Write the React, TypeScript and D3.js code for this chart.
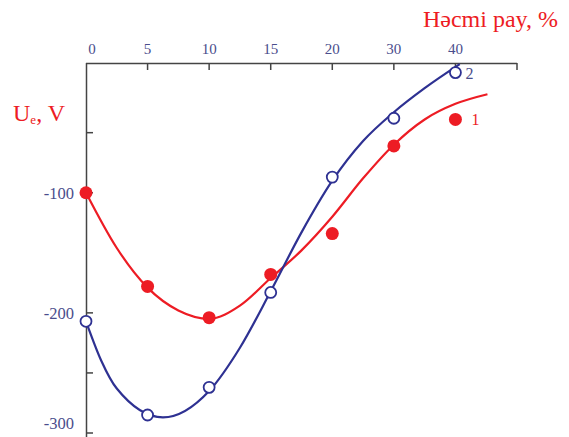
import * as d3 from "d3";
import { useEffect, useRef } from "react";

// x axis slots (equally spaced, last slot has no label)
const xLabels = ["0", "5", "10", "15", "20", "30", "40", ""];

// measured points, [slot, value]
const series1Points: [number, number][] = [
  [0, -100], [1, -178], [2, -204], [3, -168], [4, -134], [5, -61], [6, -39],
];
const series2Points: [number, number][] = [
  [0, -207], [1, -285], [2, -262], [3, -183], [4, -87], [5, -38], [6, 0],
];

// fitted curves
const series1Fit: [number, number][] = [
  [0, -100], [0.5, -146], [1, -179], [1.5, -198], [2, -205], [2.5, -194],
  [3, -171], [3.5, -148], [4, -120], [4.5, -88], [5, -60], [5.5, -39],
  [6, -26], [6.52, -18],
];
const series2Fit: [number, number][] = [
  [0, -207], [0.25, -240], [0.5, -263], [1.25, -287], [2, -265], [2.5, -229],
  [3, -182], [3.5, -133], [4, -90], [4.5, -57], [5, -33], [5.5, -13], [6.07, 7],
];

const yTicks = [-50, -100, -200, -250, -300];
const yLabels = [-100, -200, -300];

const RED = "#ed1c24";
const BLUE = "#2e3192";
const LABEL = "#4a4d8c";
const AXIS = "#444";

export default function App() {
  const ref = useRef<SVGSVGElement>(null);

  useEffect(() => {
    const svg = d3.select(ref.current);
    svg.selectAll("*").remove();

    const x = d3.scaleLinear().domain([0, 7]).range([86, 517]);
    const y = d3.scaleLinear().domain([-300, 8]).range([433, 63]);
    const font = "'Liberation Serif', 'Times New Roman', serif";

    // top axis
    svg.append("line")
      .attr("x1", x(0)).attr("x2", x(7))
      .attr("y1", 63.5).attr("y2", 63.5)
      .attr("stroke", AXIS).attr("stroke-width", 1.5);
    svg.selectAll(".xt")
      .data(xLabels.map((_, i) => i).slice(1))
      .join("line")
      .attr("x1", d => x(d)).attr("x2", d => x(d))
      .attr("y1", 63).attr("y2", 70)
      .attr("stroke", AXIS).attr("stroke-width", 1.5);
    svg.selectAll(".xl")
      .data(xLabels)
      .join("text")
      .attr("x", (_, i) => x(i) + (i === 0 ? 6 : 0))
      .attr("y", 54)
      .attr("text-anchor", "middle")
      .attr("font-family", font)
      .attr("font-size", 15)
      .attr("fill", LABEL)
      .text(d => d);

    // left axis
    svg.append("line")
      .attr("x1", 86.5).attr("x2", 86.5)
      .attr("y1", 63).attr("y2", 437)
      .attr("stroke", AXIS).attr("stroke-width", 1.5);
    svg.selectAll(".yt")
      .data(yTicks)
      .join("line")
      .attr("x1", 86).attr("x2", 93)
      .attr("y1", d => y(d)).attr("y2", d => y(d))
      .attr("stroke", AXIS).attr("stroke-width", 1.5);
    svg.selectAll(".yl")
      .data(yLabels)
      .join("text")
      .attr("x", 74)
      .attr("y", d => Math.min(y(d), 423) + 6)
      .attr("text-anchor", "end")
      .attr("font-family", font)
      .attr("font-size", 16.5)
      .attr("fill", LABEL)
      .text(d => d);

    const line = d3.line<[number, number]>()
      .x(d => x(d[0]))
      .y(d => y(d[1]))
      .curve(d3.curveMonotoneX);

    svg.append("path").datum(series1Fit)
      .attr("d", line).attr("fill", "none")
      .attr("stroke", RED).attr("stroke-width", 2.2);
    svg.append("path").datum(series2Fit)
      .attr("d", line).attr("fill", "none")
      .attr("stroke", BLUE).attr("stroke-width", 2.2);

    svg.selectAll(".p1")
      .data(series1Points)
      .join("circle")
      .attr("cx", d => x(d[0])).attr("cy", d => y(d[1]))
      .attr("r", 6.5)
      .attr("fill", RED);
    svg.selectAll(".p2")
      .data(series2Points)
      .join("circle")
      .attr("cx", d => x(d[0])).attr("cy", d => y(d[1]))
      .attr("r", 5.5)
      .attr("fill", "white")
      .attr("stroke", BLUE).attr("stroke-width", 1.8);

    // series numbers
    svg.append("text")
      .attr("x", x(6) + 16).attr("y", y(-39) + 6)
      .attr("font-family", font).attr("font-size", 16)
      .attr("fill", RED).text("1");
    svg.append("text")
      .attr("x", x(6) + 10).attr("y", y(0) + 6)
      .attr("font-family", font).attr("font-size", 16)
      .attr("fill", LABEL).text("2");

    // axis titles
    svg.append("text")
      .attr("x", 558).attr("y", 27)
      .attr("text-anchor", "end")
      .attr("font-family", font).attr("font-size", 24)
      .attr("fill", RED)
      .text("Həcmi pay, %");

    const yt = svg.append("text")
      .attr("x", 13).attr("y", 121)
      .attr("font-family", font).attr("font-size", 24)
      .attr("fill", RED);
    yt.append("tspan").text("U");
    yt.append("tspan").attr("font-size", 13).attr("dy", 3).text("e");
    yt.append("tspan").attr("dy", -3).text(", V");
  }, []);

  return (
    <svg
      ref={ref}
      width={569}
      height={437}
      style={{ position: "absolute", left: 0, top: 0, background: "white" }}
    />
  );
}
